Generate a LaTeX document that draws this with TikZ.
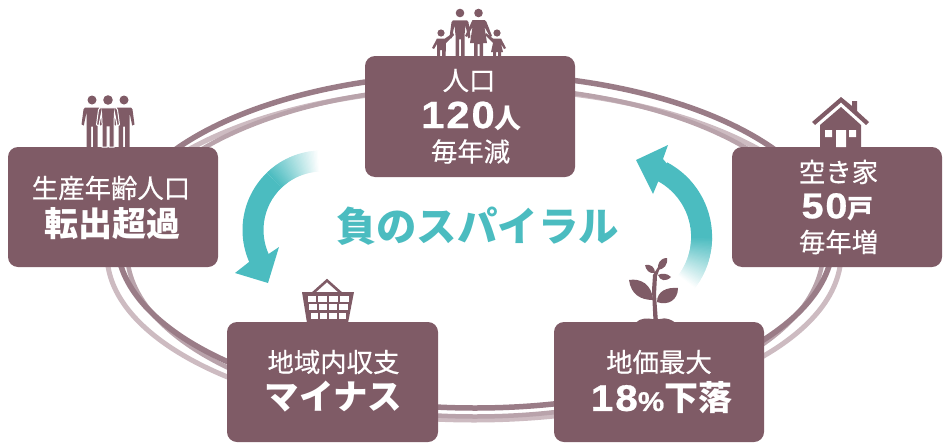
\documentclass[tikz,border=0pt]{standalone}
\usepackage{fontspec}
\setmainfont{Noto Sans CJK JP}
\newfontfamily\jpm[FakeBold=0.5]{Noto Sans CJK JP}
\newfontfamily\digf[LetterSpace=5,FakeStretch=1.1,FakeBold=0.7]{Liberation Sans Bold}
\definecolor{boxc}{HTML}{7F5B66}
\definecolor{ringa}{HTML}{9A7C87}
\definecolor{ringb}{HTML}{CDBBC1}
\definecolor{ringc}{HTML}{B9A3AB}
\definecolor{teal}{HTML}{4BBCC0}
\tikzset{
 cardbox/.style={fill=boxc,rounded corners=10pt,draw=none},
 small/.style={text=white,inner sep=0pt,font=\jpm\fontsize{26.4}{26.4}\selectfont},
 big/.style={text=white,inner sep=0pt,font=\fontsize{34}{34}\bfseries\selectfont},
 icon/.style={fill=boxc,draw=none},
 figextra/.style={}
}
\newcommand{\card}[5]{\fill[cardbox] (#2,#3) rectangle (#4,#5); \coordinate (#1) at ({(#2+#4)/2},{(#3+#5)/2});}
\newcommand{\fadearc}[6]{%
 \foreach \i in {0,...,40}{%
  \pgfmathsetmacro{\aa}{#5+(#6-#5)*\i/41}
  \pgfmathsetmacro{\bb}{#5+(#6-#5)*(\i+1.5)/41}
  \pgfmathtruncatemacro{\pc}{100-\i*100/40}
  \fill[teal!\pc!white] ({#1+#3*cos(\aa)},{#2-#3*sin(\aa)}) -- ({#1+#3*cos(\bb)},{#2-#3*sin(\bb)}) -- ({#1+#4*cos(\bb)},{#2-#4*sin(\bb)}) -- ({#1+#4*cos(\aa)},{#2-#4*sin(\aa)}) -- cycle;
 }}
\newcommand{\fig}[6]{% x, head y, head r, half shoulder, waist half, foot y
 \fill[icon] (#1,#2) circle (#3);
 \path[icon,figextra] ({#1-#4},{#2+#3+3}) -- ({#1+#4},{#2+#3+3})
   -- ({#1+#4+1.5},{#2+#3+5}) -- ({#1+#4+3.5},{#2+#3+20}) -- ({#1+#4+1.2},{#2+#3+21}) -- ({#1+#4-1.5},{#2+#3+8})
   -- ({#1+#5},{#2+#3+18}) -- ({#1+#5},#6) -- ({#1+1},#6) -- ({#1+1},{#2+#3+22}) -- ({#1-1},{#2+#3+22}) -- ({#1-1},#6) -- ({#1-#5},#6) -- ({#1-#5},{#2+#3+18})
   -- ({#1-#4+1.5},{#2+#3+8}) -- ({#1-#4-1.2},{#2+#3+21}) -- ({#1-#4-3.5},{#2+#3+20}) -- ({#1-#4-1.5},{#2+#3+5}) -- cycle;
}
\begin{document}
\begin{tikzpicture}[x=1pt,y=-1pt]
\useasboundingbox (0,0) rectangle (949,447);
% rings
\draw[ringb,line width=5pt] (474,254) ellipse [x radius=367,y radius=166];
\draw[ringc,line width=4.5pt] (475,251.5) ellipse [x radius=348,y radius=165];
\draw[ringa,line width=5.5pt] (475,241) ellipse [x radius=358,y radius=167];
% cards
\card{a}{365}{56}{575}{177}
\card{b}{732}{147}{942}{267}
\card{c}{554}{322}{764}{442}
\card{d}{227}{322}{438}{442}
\card{e}{8}{147}{218}{267}
% arrows
\fadearc{322}{230}{58.5}{79.5}{134}{92}
\fill[teal] ({322+58.5*cos(134)},{230-58.5*sin(134)}) arc[start angle=-134,delta angle=-76,radius=58.5] -- ({322+79.5*cos(210)},{230-79.5*sin(210)}) arc[start angle=-210,delta angle=76,radius=79.5] -- cycle;
\fill[teal] (235,273) -- (268,283) -- (279,247) -- (267,255) -- (262,258) -- (249,262) -- cycle;
\fadearc{627.6}{237}{63.5}{84.5}{0}{-38}
\fill[teal] ({627.6+63.5},{237}) arc[start angle=0,delta angle=-62,radius=63.5] -- ({627.6+84.5*cos(62)},{237-84.5*sin(62)}) arc[start angle=-62,delta angle=62,radius=84.5] -- cycle;
\fill[teal] (636,160) -- (668,145) -- (663,159) -- (668,165) -- (658,182) -- (653,194) -- cycle;
% title
\node[inner sep=0pt,text=teal,font=\fontsize{40.4}{40}\bfseries\selectfont] (title) at (477.5,226) {負のスパイラル};
% texts
\node[small] (a1) at (469,80.5) {人口};
\node[big] (a2) at (471.5,116) {{\digf\fontsize{38}{38}\selectfont 120}\fontsize{27}{27}\selectfont 人};
\node[small] (a3) at (470.5,151.5) {毎年減};
\node[small] (b1) at (838.5,172) {空き家};
\node[big] (b2) at (837.5,207) {{\digf\fontsize{36}{36}\selectfont 50}\fontsize{26}{26}\selectfont 戸};
\node[small] (b3) at (838.5,242) {毎年増};
\node[small] (c1) at (659,362) {地価最大};
\node[big] (c2) at (661.5,398) {{\digf\fontsize{37}{37}\selectfont 18}{\digf\fontsize{27}{27}\selectfont\%}\fontsize{34}{34}\selectfont 下落};
\node[small] (d1) at (333.5,362) {地域内収支};
\node[big,font=\fontsize{34.5}{34.5}\bfseries\selectfont] (d2) at (333.5,397) {マイナス};
\node[small] (e1) at (111,188) {生産年齢人口};
\node[big] (e2) at (112.5,224) {転出超過};
% people three
\fig{92}{100}{4.5}{7}{5.5}{147}
\fig{124}{100}{4.5}{7}{5.5}{147}
\tikzset{figextra/.style={draw=white,line width=1pt}}
\fig{108}{100}{4.8}{8}{6}{147}
\tikzset{figextra/.style={}}
% family
\fig{460}{13}{4.3}{7}{4.5}{59}
\fill[icon] (478.5,13) circle (4.3);
\fill[icon] (472.5,20) -- (484.5,20) -- (486.5,22) -- (492,36) -- (490,37) -- (484.5,27) -- (487,43) -- (483,43) -- (483,59) -- (479.5,59) -- (479.5,44) -- (477.5,44) -- (477.5,59) -- (474,59) -- (474,43) -- (470,43) -- (472.5,27) -- (467,37) -- (465,36) -- cycle;
\fill[icon] (441,33) circle (3.6);
\fill[icon] (437,38.5) -- (445,38.5) -- (453,33) -- (454,35) -- (446,43) -- (445.5,59) -- (442,59) -- (442,50) -- (440,50) -- (440,59) -- (437,59) -- (437,44) -- (434,49) -- (432,48) -- cycle;
\fill[icon] (497,33) circle (3.6);
\fill[icon] (493,38.5) -- (501,38.5) -- (506,48) -- (504,49) -- (501,44) -- (503,52) -- (501,52) -- (501,59) -- (498,59) -- (498,52) -- (496,52) -- (496,59) -- (493,59) -- (493,52) -- (491,52) -- (493,43) -- (485,35) -- (486,33) -- cycle;
% house
\fill[icon] (841,97) -- (852,106) -- (852,101) -- (857,101) -- (857,111) -- (869,122) -- (866,125) -- (841,102.5) -- (815,125) -- (812,122) -- cycle;
\fill[icon] (841,107) -- (861,125) -- (861,148) -- (820,148) -- (820,125) -- cycle;
\fill[white] (825,130) rectangle (832,137) (849,130) rectangle (856,137) (836,130) rectangle (846,147);
% basket
\fill[icon] (302,292) -- (354,292) -- (348,323) -- (307,323) -- cycle;
\foreach \r/\yy/\xa/\xb in {0/296/306.5/350,1/304/308/348.5,2/312.5/309.5/347}{
 \foreach \c in {0,1,2,3}{
  \fill[white] ({\xa+\c*(\xb-\xa)/4+1},\yy) rectangle ({\xa+(\c+1)*(\xb-\xa)/4-1},{\yy+6.3});
 }}
\draw[boxc,line width=2.6pt] (313,293) -- (327,280.5) -- (341,293);
% plant
\fill[icon] (653.5,322) -- (652,290) -- (653,275) -- (660,264) -- (661,265) -- (657,276) -- (656,295) -- (658,322) -- cycle;
\fill[icon] (629,280) .. controls (640,278) and (652,284) .. (653,300) .. controls (640,300) and (631,294) .. (629,280) -- cycle;
\fill[icon] (678,288) .. controls (667,287) and (657,291) .. (657,302) .. controls (668,306) and (678,300) .. (678,288) -- cycle;
\fill[icon] (645,265) .. controls (651,264) and (655,267) .. (655,273) .. controls (649,274) and (646,270) .. (645,265) -- cycle;
\fill[icon] (667,258) .. controls (660,258) and (657,264) .. (658,270) .. controls (664,269) and (668,265) .. (667,258) -- cycle;
\fill[icon] (671,277) .. controls (667,273) and (662,273) .. (658,275) .. controls (660,281) and (666,282) .. (671,277) -- cycle;
\fill[icon] (636,322.5) .. controls (640,318) and (648,318) .. (652,319) -- (660,319) .. controls (666,317) and (672,320) .. (675,322.5) -- cycle;
\end{tikzpicture}
\end{document}
